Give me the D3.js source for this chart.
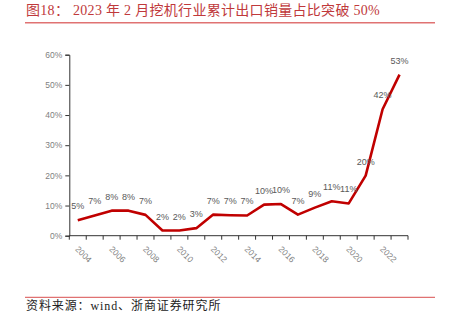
<!DOCTYPE html>
<html><head><meta charset="utf-8">
<script src="https://cdn.jsdelivr.net/npm/d3@7"></script>
<style>html,body{margin:0;padding:0;background:#fff;}svg{display:block;}</style>
</head><body>
<svg id="c" width="450" height="328"></svg>
<script>
const years = [2004,2005,2006,2007,2008,2009,2010,2011,2012,2013,2014,2015,2016,2017,2018,2019,2020,2021,2022,2023];
const shares = [5.1,6.7,8.3,8.3,6.9,1.7,1.7,2.5,7.0,6.8,6.7,10.3,10.5,7.0,9.3,11.4,10.7,19.9,41.9,53.4];
const labels = ["5%","7%","8%","8%","7%","2%","2%","3%","7%","7%","7%","10%","10%","7%","9%","11%","11%","20%","42%","53%"];
const yTicks = [0,10,20,30,40,50,60];
const xTickYears = [2004,2006,2008,2010,2012,2014,2016,2018,2020,2022];
const titleText = "图18：  2023 年 2 月挖机行业累计出口销量占比突破 50%";
const sourceText = "资料来源：wind、浙商证券研究所";

const svg = d3.select("#c");
const serif = "'Liberation Serif','Times New Roman','Noto Sans CJK SC',serif";
const sans = "'Liberation Sans',Arial,sans-serif";

// title
svg.append("text").attr("x",26).attr("y",15).attr("fill","#c0393b")
  .attr("font-family",serif).attr("font-size",14).attr("letter-spacing",0.3).text(titleText);
svg.append("line").attr("x1",25).attr("x2",435).attr("y1",22.7).attr("y2",22.7)
  .attr("stroke","#e07272").attr("stroke-width",1.5);

// footer
svg.append("line").attr("x1",25).attr("x2",435).attr("y1",297.3).attr("y2",297.3)
  .attr("stroke","#e07272").attr("stroke-width",1.2);
svg.append("text").attr("x",26).attr("y",309.5).attr("fill","#222")
  .attr("font-family",serif).attr("font-size",12).attr("letter-spacing",0.9).text(sourceText);

const x = d3.scaleBand().domain(years).range([69.3,408]);
const y = d3.scaleLinear().domain([0,60]).range([235.7,54.7]);

// y axis
const ya = svg.append("g").attr("transform","translate(69.3,0)")
  .call(d3.axisLeft(y).tickValues(yTicks).tickFormat(d=>d+"%").tickSize(4).tickPadding(3));
ya.select(".domain").attr("stroke","#333").attr("stroke-width",1);
ya.selectAll(".tick line").attr("stroke","#333");
ya.selectAll(".tick text").attr("fill","#7f7f7f").attr("font-family",sans).attr("font-size",8.5);

// x axis
const xa = svg.append("g").attr("transform","translate(0,235.7)");
xa.append("line").attr("x1",69.3).attr("x2",408).attr("stroke","#333");
const edges = years.map(d=>x(d)).concat([x(years[years.length-1])+x.bandwidth()]);
xa.selectAll(".tk").data(edges).join("line").attr("class","tk")
  .attr("x1",d=>d).attr("x2",d=>d).attr("y1",0).attr("y2",4).attr("stroke","#333");
xa.selectAll(".xl").data(xTickYears).join("text").attr("class","xl")
  .attr("transform",d=>`translate(${x(d)+x.bandwidth()/2-3},14) rotate(45)`)
  .attr("fill","#7f7f7f").attr("font-family",sans).attr("font-size",8.5).text(d=>d);

// line
const pts = years.map((d,i)=>({yr:d,v:shares[i],l:labels[i]}));
const line = d3.line().x(d=>x(d.yr)+x.bandwidth()/2).y(d=>y(d.v));
svg.append("path").datum(pts).attr("d",line).attr("fill","none")
  .attr("stroke","#c00000").attr("stroke-width",2.6).attr("stroke-linejoin","round");

// labels
svg.selectAll(".dl").data(pts).join("text").attr("class","dl")
  .attr("x",d=>x(d.yr)+x.bandwidth()/2).attr("y",d=>y(d.v)-11)
  .attr("text-anchor","middle").attr("fill","#595959")
  .attr("font-family",sans).attr("font-size",9).text(d=>d.l);
</script>
</body></html>
